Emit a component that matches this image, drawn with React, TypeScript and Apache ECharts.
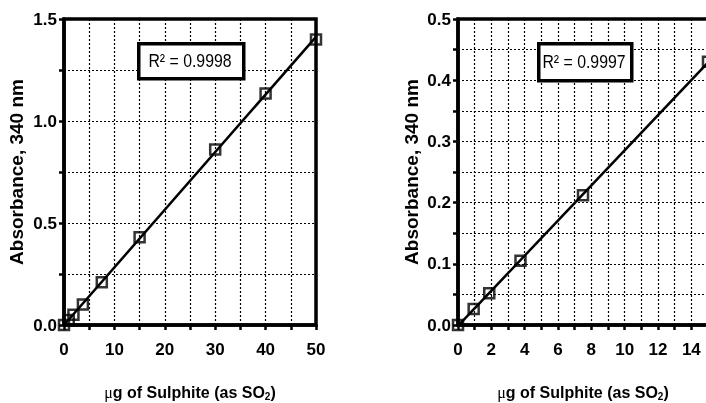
import React, { useEffect, useRef } from 'react';
import * as echarts from 'echarts';

// Left panel: 0–50 µg
const leftX = [0, 0.94, 1.875, 3.75, 7.5, 15, 30, 40, 50];
const leftY = [0, 0.025, 0.05, 0.1, 0.21, 0.43, 0.86, 1.135, 1.4];
const leftR2 = '0.9998';
// Right panel: 0–15 µg
const rightX = [0, 0.94, 1.875, 3.75, 7.5, 15];
const rightY = [0, 0.026, 0.052, 0.105, 0.212, 0.43];
const rightR2 = '0.9997';

const yTitle = 'Absorbance, 340 nm';
const FONT = '"Liberation Sans", Arial, Helvetica, sans-serif';

function fit(xs: number[], ys: number[]) {
  const n = xs.length;
  const mx = xs.reduce((a, b) => a + b, 0) / n;
  const my = ys.reduce((a, b) => a + b, 0) / n;
  let sxy = 0, sxx = 0;
  for (let i = 0; i < n; i++) {
    sxy += (xs[i] - mx) * (ys[i] - my);
    sxx += (xs[i] - mx) * (xs[i] - mx);
  }
  const b = sxy / sxx;
  return { a: my - b * mx, b };
}

function isMult(v: number, step: number) {
  const r = v / step;
  return Math.abs(r - Math.round(r)) < 1e-6;
}

export default function App() {
  const ref = useRef<HTMLDivElement>(null);
  useEffect(() => {
    if (!ref.current) return;
    const chart = echarts.init(ref.current, undefined, { renderer: 'svg' });
    const lf = fit(leftX, leftY);
    const rf = fit(rightX, rightY);
    const axisLine = { show: true, lineStyle: { color: '#000', width: 3.5 } };
    const axisTick = { show: true, length: 5, lineStyle: { color: '#000', width: 2.5 } };
    const splitLine = { show: true, lineStyle: { color: '#000', width: 1.2, type: [2, 2] as any } };
    const labelStyle = { color: '#000', fontFamily: FONT, fontWeight: 'bold' as const, fontSize: 17 };
    const xName = '{m|\u03bc}{b|g of Sulphite (as SO}{s|2}{b|)}';
    const xNameStyle = {
      color: '#000',
      rich: {
        m: { fontFamily: 'serif', fontSize: 16, fontWeight: 'normal', color: '#000' },
        b: { fontFamily: FONT, fontSize: 16, fontWeight: 'bold', color: '#000' },
        s: { fontFamily: FONT, fontSize: 10, fontWeight: 'bold', color: '#000', padding: [8, 0, 0, 0] },
      },
    };
    const yNameStyle = { color: '#000', fontFamily: FONT, fontWeight: 'bold' as const, fontSize: 19 };
    const sym = {
      symbol: 'rect',
      symbolSize: 10,
      itemStyle: { color: 'rgba(0,0,0,0)', borderColor: '#000', borderWidth: 2.5 },
    };
    const gridBase = { top: 19, height: 306, show: true, borderColor: '#000', borderWidth: 3.5, backgroundColor: 'transparent', containLabel: false, outerBoundsMode: 'none' };
    chart.setOption({
      animation: false,
      grid: [
        { ...gridBase, left: 64, width: 252 },
        { ...gridBase, left: 458, width: 250 },
      ],
      xAxis: [
        {
          type: 'value', gridIndex: 0, min: 0, max: 50, interval: 5,
          axisLine, axisTick, splitLine,
          axisLabel: { ...labelStyle, margin: 16, formatter: (v: number) => (isMult(v, 10) ? String(v) : '') },
          name: xName, nameLocation: 'middle', nameGap: 58, nameTextStyle: xNameStyle,
        },
        {
          type: 'value', gridIndex: 1, min: 0, max: 15, interval: 1,
          axisLine, axisTick, splitLine,
          axisLabel: { ...labelStyle, margin: 16, formatter: (v: number) => (isMult(v, 2) ? String(v) : '') },
          name: xName, nameLocation: 'middle', nameGap: 58, nameTextStyle: xNameStyle,
        },
      ],
      yAxis: [
        {
          type: 'value', gridIndex: 0, min: 0, max: 1.5, interval: 0.25,
          axisLine, axisTick, splitLine,
          axisLabel: { ...labelStyle, margin: 7, formatter: (v: number) => (isMult(v, 0.5) ? v.toFixed(1) : '') },
          name: yTitle, nameLocation: 'middle', nameGap: 38, nameTextStyle: yNameStyle,
        },
        {
          type: 'value', gridIndex: 1, min: 0, max: 0.5, interval: 0.05,
          axisLine, axisTick, splitLine,
          axisLabel: { ...labelStyle, margin: 7, formatter: (v: number) => (isMult(v, 0.1) ? v.toFixed(1) : '') },
          name: yTitle, nameLocation: 'middle', nameGap: 37, nameTextStyle: yNameStyle,
        },
      ],
      series: [
        {
          type: 'line', xAxisIndex: 0, yAxisIndex: 0, showSymbol: false, symbol: 'none',
          lineStyle: { color: '#000', width: 2.5 },
          data: [[0, lf.a], [50, lf.a + lf.b * 50]], z: 3,
        },
        {
          type: 'scatter', xAxisIndex: 0, yAxisIndex: 0, ...sym, clip: false,
          data: leftX.map((x, i) => [x, leftY[i]]), z: 4,
        },
        {
          type: 'line', xAxisIndex: 1, yAxisIndex: 1, showSymbol: false, symbol: 'none',
          lineStyle: { color: '#000', width: 2.5 },
          data: [[0, rf.a], [15, rf.a + rf.b * 15]], z: 3,
        },
        {
          type: 'scatter', xAxisIndex: 1, yAxisIndex: 1, ...sym, clip: false,
          data: rightX.map((x, i) => [x, rightY[i]]), z: 4,
        },
      ],
      graphic: [
        {
          type: 'rect', z: 100, left: 137, top: 42,
          shape: { x: 0, y: 0, width: 105, height: 35 },
          style: { fill: '#fff', stroke: '#000', lineWidth: 3.5 },
        },
        {
          type: 'text', z: 101, x: 190, y: 61, scaleX: 0.88,
          style: { text: 'R\u00b2 = ' + leftR2, font: '18px ' + FONT, fill: '#000', align: 'center', verticalAlign: 'middle' },
        },
        {
          type: 'rect', z: 100, left: 537, top: 42,
          shape: { x: 0, y: 0, width: 93, height: 37 },
          style: { fill: '#fff', stroke: '#000', lineWidth: 3.5 },
        },
        {
          type: 'text', z: 101, x: 584, y: 62, scaleX: 0.88,
          style: { text: 'R\u00b2 = ' + rightR2, font: '18px ' + FONT, fill: '#000', align: 'center', verticalAlign: 'middle' },
        },
      ],
    });
    return () => chart.dispose();
  }, []);
  return <div ref={ref} style={{ position: 'fixed', left: 0, top: 0, width: 706, height: 403 }} />;
}
